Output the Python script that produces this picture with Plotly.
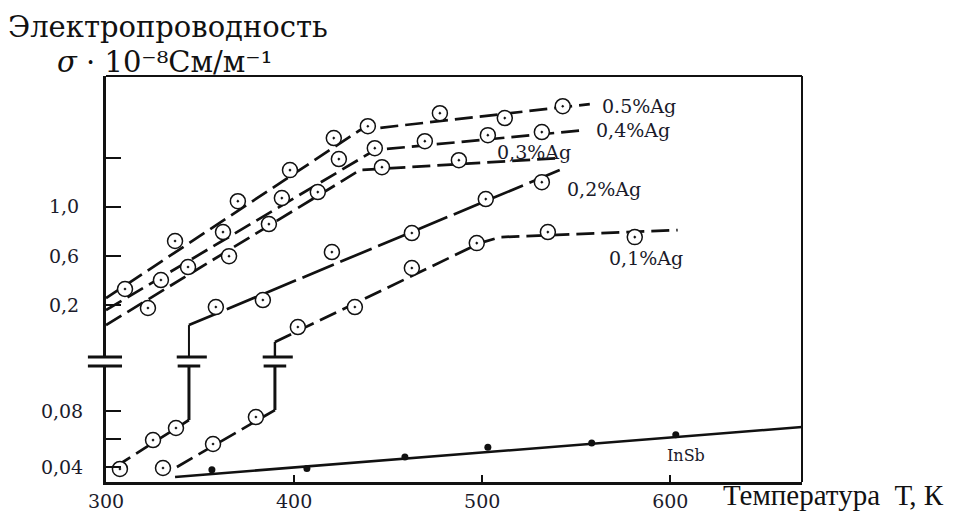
import plotly.graph_objects as go

# ---------------- data ----------------
# temperature T, K ; conductivity sigma * 1e-8 (upper / lower part of broken axis)
ag05_T = [310.1, 336.7, 370.1, 397.8, 421.1, 439.2, 477.5, 512.0, 542.8]
ag05_s = [0.330, 0.721, 1.046, 1.299, 1.560, 1.657, 1.763, 1.723, 1.820]
ag05_line_T = [300.0, 435.0, 557.2]
ag05_line_s = [0.256, 1.625, 1.837]

ag04_T = [329.2, 362.2, 393.5, 423.8, 442.9, 469.5, 503.0, 531.7]
ag04_s = [0.403, 0.794, 1.071, 1.389, 1.478, 1.535, 1.584, 1.609]
ag04_line_T = [300.0, 442.9, 554.5]
ag04_line_s = [0.158, 1.462, 1.625]

ag03_T = [322.3, 343.6, 365.4, 386.6, 412.6, 446.7, 487.6]
ag03_s = [0.175, 0.509, 0.598, 0.859, 1.120, 1.323, 1.380]
ag03_line_T = [300.0, 435.0, 541.2]
ag03_line_s = [0.036, 1.299, 1.397]

# 0.2 % Ag : lower branch, jump, upper branch
ag02_low_T = [307.4, 325.0, 337.2]
ag02_low_s = [0.0386, 0.0592, 0.0678]
ag02_low_line_T = [304.8, 344.1]
ag02_low_line_s = [0.040, 0.0735]
ag02_jump_T = 344.1
ag02_jump_low_s = [0.0735, 0.112]
ag02_jump_up_s = [-0.224, 0.036]
ag02_up_T = [358.4, 383.4, 420.1, 462.6, 501.9, 531.7]
ag02_up_s = [0.183, 0.240, 0.631, 0.786, 1.063, 1.201]
ag02_up_line_T = [344.1, 541.2]
ag02_up_line_s = [0.036, 1.299]

# 0.1 % Ag
ag01_low_T = [330.3, 356.9, 379.7]
ag01_low_s = [0.0393, 0.0564, 0.0756]
ag01_low_line_T = [337.7, 389.8]
ag01_low_line_s = [0.040, 0.0806]
ag01_jump_T = 389.8
ag01_jump_low_s = [0.0806, 0.112]
ag01_jump_up_s = [-0.224, -0.102]
ag01_up_T = [402.0, 432.3, 462.6, 497.1, 534.9, 581.1]
ag01_up_s = [0.020, 0.183, 0.501, 0.704, 0.794, 0.753]
ag01_up_line_T = [389.8, 498.7, 509.4, 603.9]
ag01_up_line_s = [-0.102, 0.704, 0.753, 0.810]

# pure InSb (lower part)
insb_T = [356.3, 406.8, 458.9, 503.0, 558.2, 602.9]
insb_s = [0.0380, 0.0390, 0.0471, 0.0540, 0.0571, 0.0630]
insb_line_T = [336.7, 670.0]
insb_line_s = [0.0329, 0.0685]

x_ticks = [300, 400, 500, 600]
x_ticktext = ["300", "400", "500", "600"]
up_ticks = [0.2, 0.6, 1.0, 1.4]
up_ticktext = ["0,2", "0,6", "1,0", ""]
low_ticks = [0.04, 0.06, 0.08]
low_ticktext = ["0,04", "", "0,08"]

labels = ["0.5%Ag", "0,4%Ag", "0,3%Ag", "0,2%Ag", "0,1%Ag", "InSb"]
label_T = [562.5, 559.3, 506.7, 543.9, 566.2, 597.0]
label_s = [1.820, 1.625, 1.446, 1.144, 0.582, 0.0485]
label_axis = ["y2", "y2", "y2", "y2", "y2", "y"]
label_size = [19, 19, 19, 19, 19, 16]

# ---------------- figure ----------------
INK = "#111111"
DASH = "18px,7px"
fig = go.Figure()

def line(x, y, yax, dash=DASH, width=2.7):
    fig.add_trace(go.Scatter(x=x, y=y, mode="lines", yaxis=yax,
                             line=dict(color=INK, width=width, dash=dash),
                             hoverinfo="skip"))

def marks(x, y, yax):
    fig.add_trace(go.Scatter(x=x, y=y, mode="markers", yaxis=yax,
                             marker=dict(symbol="circle-dot", size=15, color="white",
                                         line=dict(color=INK, width=1.5)),
                             hoverinfo="skip"))

# lines
line(ag05_line_T, ag05_line_s, "y2")
line(ag04_line_T, ag04_line_s, "y2")
line(ag03_line_T, ag03_line_s, "y2")
line(ag02_low_line_T, ag02_low_line_s, "y")
line([ag02_jump_T] * 2, ag02_jump_low_s, "y", dash="solid", width=3)
line([ag02_jump_T] * 2, ag02_jump_up_s, "y2", dash="solid", width=2)
line(ag02_up_line_T, ag02_up_line_s, "y2", dash="34px,7px")
line(ag01_low_line_T, ag01_low_line_s, "y")
line([ag01_jump_T] * 2, ag01_jump_low_s, "y", dash="solid", width=3)
line([ag01_jump_T] * 2, ag01_jump_up_s, "y2", dash="solid", width=2.4)
line(ag01_up_line_T, ag01_up_line_s, "y2")
line(insb_line_T, insb_line_s, "y", dash="solid", width=2.6)

# markers
marks(ag05_T, ag05_s, "y2")
marks(ag04_T, ag04_s, "y2")
marks(ag03_T, ag03_s, "y2")
marks(ag02_low_T, ag02_low_s, "y")
marks(ag02_up_T, ag02_up_s, "y2")
marks(ag01_low_T, ag01_low_s, "y")
marks(ag01_up_T, ag01_up_s, "y2")
fig.add_trace(go.Scatter(x=insb_T, y=insb_s, mode="markers", yaxis="y",
                         marker=dict(symbol="circle", size=7, color=INK),
                         hoverinfo="skip"))

LOW_TOP = 0.2857
UP_BOT = 0.3079
shapes = [
    # frame: top and right borders
    dict(type="line", xref="paper", yref="paper", x0=0, x1=1, y0=1, y1=1,
         line=dict(color=INK, width=2)),
    dict(type="line", xref="paper", yref="paper", x0=1, x1=1, y0=0, y1=1,
         line=dict(color=INK, width=2)),
    # axis break marks on the left axis
    dict(type="line", xref="paper", yref="paper", x0=-0.026, x1=0.023, y0=UP_BOT, y1=UP_BOT,
         line=dict(color=INK, width=3)),
    dict(type="line", xref="paper", yref="paper", x0=-0.026, x1=0.023, y0=LOW_TOP, y1=LOW_TOP,
         line=dict(color=INK, width=3)),
]
for jt in (ag02_jump_T, ag01_jump_T):
    shapes.append(dict(type="line", xref="x", yref="paper", x0=jt - 6.5, x1=jt + 9.5,
                       y0=UP_BOT, y1=UP_BOT, line=dict(color=INK, width=3)))
    shapes.append(dict(type="line", xref="x", yref="paper", x0=jt - 6.0, x1=jt + 6.0,
                       y0=LOW_TOP, y1=LOW_TOP, line=dict(color=INK, width=3)))

annotations = []
for txt, tx, ty, ax, fs in zip(labels, label_T, label_s, label_axis, label_size):
    annotations.append(dict(text=txt, x=tx, y=ty, xref="x", yref=ax, showarrow=False,
                            xanchor="left", yanchor="middle",
                            font=dict(family="DejaVu Serif", size=fs, color="#1a1a2a")))
annotations += [
    dict(text="Электропроводность", xref="paper", yref="paper", x=-0.143, y=1.121,
         xanchor="left", yanchor="middle", showarrow=False,
         font=dict(family="DejaVu Serif", size=29, color="#111")),
    dict(text="<i>σ</i> · 10⁻⁸См/м⁻¹", xref="paper", yref="paper", x=-0.0735, y=1.034,
         xanchor="left", yanchor="middle", showarrow=False,
         font=dict(family="DejaVu Serif", size=29, color="#111")),
    dict(text="Температура  Т, К", xref="paper", yref="paper", x=0.883, y=-0.031,
         xanchor="left", yanchor="middle", showarrow=False,
         font=dict(family="Liberation Serif", size=29, color="#111")),
]

tickfont = dict(family="DejaVu Serif", size=19, color="#1b1b2b")
fig.update_layout(
    width=971, height=513,
    margin=dict(l=106, r=169, t=76, b=31),
    paper_bgcolor="white", plot_bgcolor="white",
    showlegend=False,
    xaxis=dict(range=[300, 670], tickvals=x_ticks, ticktext=x_ticktext,
               ticks="inside", ticklen=7, tickwidth=2, tickcolor=INK,
               showline=True, linewidth=3, linecolor=INK, automargin=False,
               showgrid=False, zeroline=False, tickfont=tickfont, anchor="y"),
    yaxis=dict(domain=[0, LOW_TOP], range=[0.0293, 0.112],
               tickvals=low_ticks, ticktext=low_ticktext, automargin=False,
               ticks="inside", ticklen=15, tickwidth=2, tickcolor=INK,
               showline=True, linewidth=3, linecolor=INK, ticklabelstandoff=16,
               showgrid=False, zeroline=False, tickfont=tickfont, anchor="x"),
    yaxis2=dict(domain=[UP_BOT, 1], range=[-0.224, 2.066],
                tickvals=up_ticks, ticktext=up_ticktext, automargin=False,
                ticks="inside", ticklen=15, tickwidth=2, tickcolor=INK,
                showline=True, linewidth=3, linecolor=INK, ticklabelstandoff=20,
                showgrid=False, zeroline=False, tickfont=tickfont, anchor="x"),
    shapes=shapes,
    annotations=annotations,
)

fig.write_html("out.html")
